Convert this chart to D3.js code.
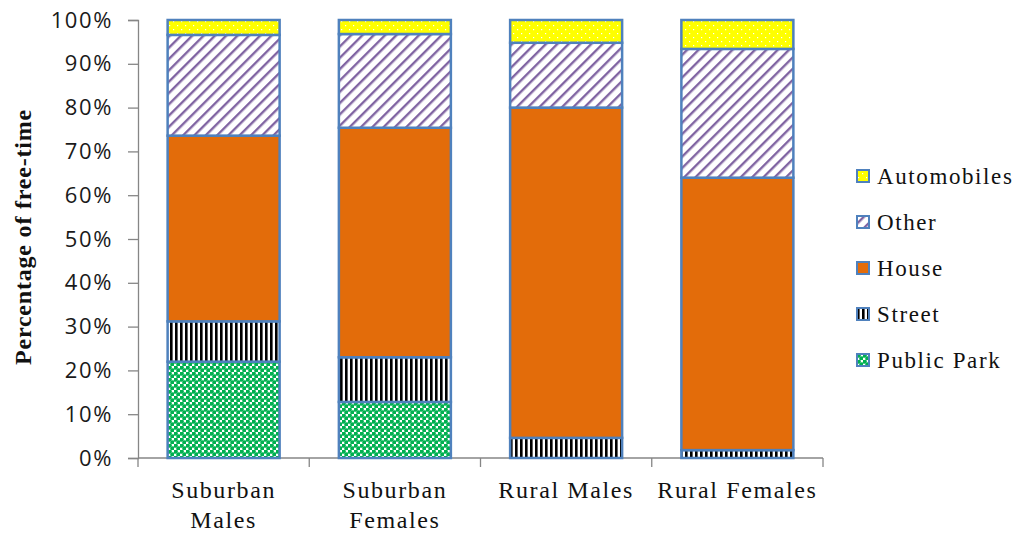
<!DOCTYPE html>
<html>
<head>
<meta charset="utf-8">
<script src="https://cdn.jsdelivr.net/npm/d3@7"></script>
<style>
  body { margin: 0; background: #fff; }
  svg { display: block; }
</style>
</head>
<body>
<div class="chart"></div>
<script>
const width = 1024;
const height = 533;

// data (percent of free-time)
const groups = ['Suburban Males', 'Suburban Females', 'Rural Males', 'Rural Females'];
const places = ['Public Park', 'Street', 'House', 'Other', 'Automobiles'];
const publicPark = [22.0, 12.8, 0, 0];
const street = [9.2, 10.2, 4.6, 1.8];
const house = [42.4, 52.4, 75.4, 62.2];
const other = [23.0, 21.4, 14.8, 29.4];
const automobiles = [3.4, 3.2, 5.2, 6.6];
const yTicks = [0, 10, 20, 30, 40, 50, 60, 70, 80, 90, 100];

const rows = groups.map((g, i) => ({
  group: g,
  'Public Park': publicPark[i],
  'Street': street[i],
  'House': house[i],
  'Other': other[i],
  'Automobiles': automobiles[i]
}));

const margin = {top: 20, right: 201, bottom: 75, left: 138};

const svg = d3.select('.chart').append('svg')
  .attr('width', width)
  .attr('height', height);

// fill patterns
const defs = svg.append('defs');

const pPark = defs.append('pattern').attr('id', 'p-park')
  .attr('patternUnits', 'userSpaceOnUse').attr('width', 6).attr('height', 6);
pPark.append('rect').attr('width', 6).attr('height', 6).attr('fill', '#fff');
pPark.append('circle').attr('cx', 1.5).attr('cy', 1.5).attr('r', 2.3).attr('fill', '#00B050');
pPark.append('circle').attr('cx', 4.5).attr('cy', 4.5).attr('r', 2.3).attr('fill', '#00B050');

const pStreet = defs.append('pattern').attr('id', 'p-street')
  .attr('patternUnits', 'userSpaceOnUse').attr('width', 5).attr('height', 5);
pStreet.append('rect').attr('width', 5).attr('height', 5).attr('fill', '#fff');
pStreet.append('rect').attr('width', 2.6).attr('height', 5).attr('fill', '#000');

const pOther = defs.append('pattern').attr('id', 'p-other')
  .attr('patternUnits', 'userSpaceOnUse').attr('width', 8).attr('height', 8)
  .attr('patternTransform', 'rotate(45)');
pOther.append('rect').attr('width', 8).attr('height', 8).attr('fill', '#fff');
pOther.append('rect').attr('width', 2.4).attr('height', 8).attr('fill', '#8064A2');

const pAuto = defs.append('pattern').attr('id', 'p-auto')
  .attr('patternUnits', 'userSpaceOnUse').attr('width', 8).attr('height', 8);
pAuto.append('rect').attr('width', 8).attr('height', 8).attr('fill', '#FFFF00');
pAuto.append('rect').attr('x', 1).attr('y', 1).attr('width', 1.2).attr('height', 1.2).attr('fill', '#fff');
pAuto.append('rect').attr('x', 5).attr('y', 5).attr('width', 1.2).attr('height', 1.2).attr('fill', '#fff');

const fills = {
  'Public Park': 'url(#p-park)',
  'Street': 'url(#p-street)',
  'House': '#E36C0A',
  'Other': 'url(#p-other)',
  'Automobiles': 'url(#p-auto)'
};

const x = d3.scaleBand()
  .domain(groups)
  .range([margin.left, width - margin.right])
  .paddingInner(0.346)
  .paddingOuter(0.173);

const y = d3.scaleLinear()
  .domain([0, 100])
  .range([height - margin.bottom, margin.top]);

const series = d3.stack().keys(places)(rows);

// axes
const axisColor = '#868686';

const yAxis = svg.append('g')
  .attr('transform', `translate(${margin.left},0)`)
  .call(d3.axisLeft(y).tickValues(yTicks).tickSize(10).tickPadding(15)
    .tickFormat(d => d + '%'));
yAxis.select('.domain').attr('stroke', axisColor).attr('stroke-width', 1.3);
yAxis.selectAll('.tick line').attr('stroke', axisColor).attr('stroke-width', 1.3);
yAxis.selectAll('.tick text')
  .attr('fill', '#1a1a1a')
  .style('font-family', '"Open Sans", sans-serif')
  .style('font-size', '22px')
  .style('letter-spacing', '1.6px');

// x axis: line with ticks at category boundaries
const xBase = y(0);
const bounds = [margin.left].concat(groups.map(g => x(g) + x.bandwidth() + x.step() * 0.173));
svg.append('line')
  .attr('x1', margin.left).attr('x2', width - margin.right)
  .attr('y1', xBase).attr('y2', xBase)
  .attr('stroke', axisColor).attr('stroke-width', 1.3);
svg.selectAll('.xtick')
  .data(bounds)
  .enter().append('line')
  .attr('class', 'xtick')
  .attr('x1', d => d).attr('x2', d => d)
  .attr('y1', xBase).attr('y2', xBase + 9)
  .attr('stroke', axisColor).attr('stroke-width', 1.3);

// category labels (two lines where the original wraps)
const labelLines = {
  'Suburban Males': ['Suburban', 'Males'],
  'Suburban Females': ['Suburban', 'Females'],
  'Rural Males': ['Rural Males'],
  'Rural Females': ['Rural Females']
};
const xl = svg.selectAll('.xlabel')
  .data(groups)
  .enter().append('text')
  .attr('class', 'xlabel')
  .attr('text-anchor', 'middle')
  .attr('fill', '#111')
  .style('font-family', '"Liberation Serif", "Times New Roman", serif')
  .style('font-size', '24px')
  .style('letter-spacing', '1.6px');
xl.selectAll('tspan')
  .data(d => labelLines[d].map(t => ({t: t, cx: x(d) + x.bandwidth() / 2})))
  .enter().append('tspan')
  .attr('x', d => d.cx)
  .attr('y', (d, i) => xBase + 40 + i * 30)
  .text(d => d.t);

// y title
svg.append('text')
  .attr('transform', `translate(31,${(y(0) + y(100)) / 2 - 2}) rotate(-90)`)
  .attr('text-anchor', 'middle')
  .attr('fill', '#111')
  .style('font-family', '"Liberation Serif", "Times New Roman", serif')
  .style('font-weight', 'bold')
  .style('font-size', '24px')
  .style('letter-spacing', '0.8px')
  .text('Percentage of free-time');

// stacked bars
const layer = svg.selectAll('.layer')
  .data(series)
  .enter().append('g')
  .attr('class', 'layer')
  .attr('fill', d => fills[d.key]);

layer.selectAll('rect')
  .data(d => d)
  .enter().append('rect')
  .attr('x', d => x(d.data.group))
  .attr('y', d => y(d[1]))
  .attr('width', x.bandwidth())
  .attr('height', d => y(d[0]) - y(d[1]))
  .attr('stroke', '#4F81BD')
  .attr('stroke-width', 2.5);

// legend, top entry is the top of the stack
const legendItems = places.slice().reverse();
const lg = svg.append('g').attr('transform', 'translate(857,176)');
const li = lg.selectAll('g')
  .data(legendItems)
  .enter().append('g')
  .attr('transform', (d, i) => `translate(0,${i * 46})`);
li.append('rect')
  .attr('x', 0).attr('y', -6)
  .attr('width', 12).attr('height', 12)
  .attr('fill', d => fills[d])
  .attr('stroke', '#4F81BD')
  .attr('stroke-width', 2);
li.append('text')
  .attr('x', 20).attr('y', 8)
  .attr('fill', '#111')
  .style('font-family', '"Liberation Serif", "Times New Roman", serif')
  .style('font-size', '23px')
  .style('letter-spacing', '1.6px')
  .text(d => d);
</script>
</body>
</html>
